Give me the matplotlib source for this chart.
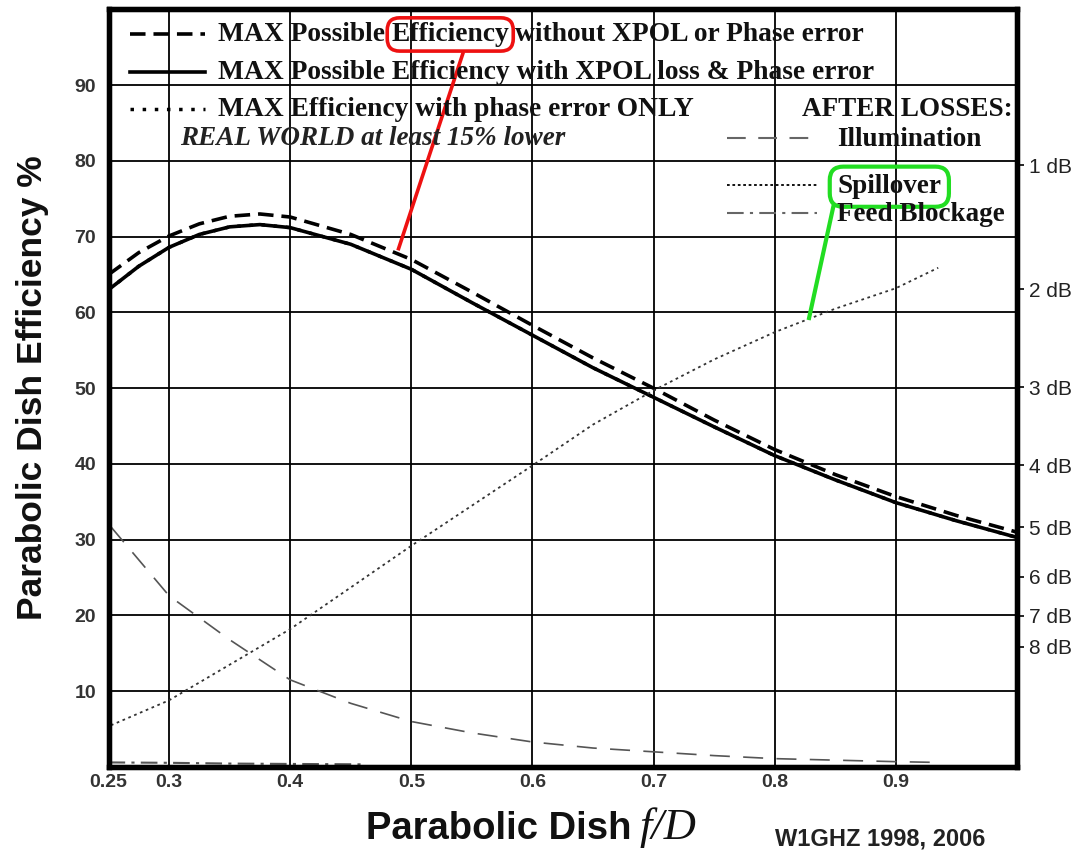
import matplotlib
matplotlib.use('Agg')
import matplotlib.pyplot as plt

# f/D values and efficiency curves (percent)
fd = [0.25, 0.275, 0.3, 0.325, 0.35, 0.375, 0.4, 0.45, 0.5, 0.55, 0.6,
      0.65, 0.7, 0.75, 0.8, 0.85, 0.9, 0.95, 1.0]
eff_no_xpol = [65.0, 67.9, 70.1, 71.7, 72.7, 73.0, 72.6, 70.3, 67.0, 62.7, 58.3,
               54.0, 50.0, 45.8, 41.9, 38.6, 35.7, 33.2, 31.0]
eff_xpol = [63.0, 66.1, 68.6, 70.3, 71.3, 71.6, 71.2, 69.0, 65.7, 61.3, 57.0,
            52.7, 48.8, 44.9, 41.1, 37.9, 34.9, 32.5, 30.3]
# phase-error-only curve is hidden under the solid one in the original
eff_phase = [63.0, 66.1, 68.6, 70.3, 71.3, 71.6, 71.2, 69.0, 65.7, 61.3, 57.0,
             52.7, 48.8, 44.9, 41.1, 37.9, 34.9, 32.5, 30.3]

fd_loss = [0.252, 0.3, 0.35, 0.4, 0.45, 0.5, 0.55, 0.6, 0.65, 0.7, 0.75,
           0.8, 0.85, 0.9, 0.935]
illumination = [31.7, 22.6, 16.8, 11.5, 8.4, 6.0, 4.5, 3.3, 2.5, 2.0, 1.5,
                1.1, 0.9, 0.7, 0.6]
spillover = [5.5, 8.8, 13.5, 18.2, 23.7, 29.2, 34.5, 39.8, 45.2, 49.7, 53.8,
             57.4, 60.5, 63.2, 65.9]
fd_block = [0.25, 0.3, 0.35, 0.4, 0.46]
blockage = [0.6, 0.55, 0.45, 0.4, 0.35]

x_ticks = [0.25, 0.3, 0.4, 0.5, 0.6, 0.7, 0.8, 0.9]
x_labels = ['0.25', '0.3', '0.4', '0.5', '0.6', '0.7', '0.8', '0.9']
y_ticks = [10, 20, 30, 40, 50, 60, 70, 80, 90]
db_ticks = [1, 2, 3, 4, 5, 6, 7, 8]

serif = 'Liberation Serif'
sans = 'Liberation Sans'

fig = plt.figure(figsize=(10.85, 8.52), dpi=100)
ax = fig.add_axes([0.1, 0.0998, 0.8373, 0.8891])
ax.set_xlim(0.25, 1.0)
ax.set_ylim(0, 100)

# curves
ax.plot(fd, eff_phase, color='black', lw=2.5, ls=(0, (1, 2.5)))
ax.plot(fd, eff_no_xpol, color='black', lw=2.6, dashes=(4.3, 2.2))
ax.plot(fd, eff_xpol, color='black', lw=2.6)
ax.plot(fd_loss, illumination, color='#555555', lw=1.2, dashes=(12, 8))
ax.plot(fd_loss, spillover, color='#333333', lw=1.3, dashes=(1.5, 2))
ax.plot(fd_block, blockage, color='#555555', lw=1.5, dashes=(8, 3, 1.5, 3))

# grid and frame
ax.set_xticks(x_ticks)
ax.set_xticklabels(x_labels)
ax.set_yticks(y_ticks)
ax.grid(True, color='black', lw=1.3)
ax.set_axisbelow(True)
for s in ax.spines.values():
    s.set_linewidth(3.8)
ax.tick_params(axis='both', length=0, labelsize=14, labelcolor='#333333')
ax.tick_params(axis='x', pad=5)
ax.tick_params(axis='y', pad=9)
for lab in ax.get_xticklabels() + ax.get_yticklabels():
    lab.set_fontfamily(sans)
    lab.set_fontweight('bold')

# right hand dB scale
ax2 = ax.twinx()
ax2.set_ylim(0, 100)
ax2.set_yticks([100 * 10 ** (-d / 10) for d in db_ticks])
ax2.set_yticklabels(['%d dB' % d for d in db_ticks])
ax2.tick_params(axis='y', direction='out', length=5, width=1.2, pad=4,
                labelsize=15, labelcolor='#222222')
for lab in ax2.get_yticklabels():
    lab.set_fontfamily(sans)
for s in ax2.spines.values():
    s.set_linewidth(3.8)

# legend block, top left
fs = 19.8
ax.plot([0.268, 0.330], [96.8, 96.8], color='black', lw=2.6, dashes=(4.3, 2.2))
ax.plot([0.268, 0.330], [91.8, 91.8], color='black', lw=2.6)
ax.plot([0.268, 0.330], [86.9, 86.9], color='black', lw=2.5, ls=(0, (1, 2.5)))
t1 = ax.text(0.3405, 96.7, 'MAX Possible', fontfamily=serif, fontweight='bold',
             fontsize=fs, va='center', color='#111111')
t_eff = ax.annotate('Efficiency', xy=(1, 0), xycoords=t1, xytext=(4.5, 0),
                    textcoords='offset points', va='bottom', fontfamily=serif,
                    fontweight='bold', fontsize=fs, color='#111111',
                    bbox=dict(boxstyle='round,pad=0.15,rounding_size=0.45',
                              fc='none', ec='#ee1111', lw=2.6))
ax.annotate('without XPOL or Phase error', xy=(1, 0), xycoords=t_eff,
            xytext=(4.5, 0), textcoords='offset points', va='bottom',
            fontfamily=serif, fontweight='bold', fontsize=fs, color='#111111')
ax.text(0.3405, 91.7, 'MAX Possible Efficiency with XPOL loss & Phase error',
        fontfamily=serif, fontweight='bold', fontsize=fs, va='center',
        color='#111111')
ax.text(0.3405, 86.8, 'MAX Efficiency with phase error ONLY',
        fontfamily=serif, fontweight='bold', fontsize=fs, va='center',
        color='#111111')
ax.text(0.309, 83.0, 'REAL WORLD at least 15% lower', fontfamily=serif,
        fontweight='bold', fontstyle='italic', fontsize=19.5, va='center',
        color='#222222')

# legend block, top right
fs2 = 19.5
ax.text(0.9967, 86.8, 'AFTER LOSSES:', fontfamily=serif, fontweight='bold',
        fontsize=fs2, va='center', ha='right', color='#111111')
ax.plot([0.761, 0.835], [83.0, 83.0], color='#666666', lw=1.5, dashes=(9, 6))
ax.text(0.8517, 82.8, 'Illumination', fontfamily=serif, fontweight='bold',
        fontsize=fs2, va='center', color='#111111')
ax.plot([0.761, 0.835], [76.8, 76.8], color='black', lw=1.3, dashes=(1.5, 1.5))
ax.text(0.8517, 76.6, 'Spillover', fontfamily=serif, fontweight='bold',
        fontsize=fs2, va='center', color='#111111',
        bbox=dict(boxstyle='round,pad=0.28,rounding_size=0.5',
                  fc='none', ec='#22dd22', lw=3))
ax.plot([0.761, 0.835], [73.1, 73.1], color='#666666', lw=1.5,
        dashes=(8, 3, 1.5, 3))
ax.text(0.8517, 72.9, 'Feed Blockage', fontfamily=serif, fontweight='bold',
        fontsize=fs2, va='center', color='#111111')

# callout lines
red_line_x = [0.543, 0.489]
red_line_y = [94.4, 68.2]
green_line_x = [0.8487, 0.828]
green_line_y = [74.2, 59.0]
ax.plot(red_line_x, red_line_y, color='#ee1111', lw=2.6, solid_capstyle='butt')
ax.plot(green_line_x, green_line_y, color='#22dd22', lw=3, solid_capstyle='butt')

# axis titles
fig.text(0.0295, 0.545, 'Parabolic Dish Efficiency %', rotation=90,
         fontfamily=sans, fontweight='bold', fontsize=25.5, ha='center',
         va='center', color='#111111')
fig.text(632 / 1085, 0.015, 'Parabolic Dish', fontfamily=sans,
         fontweight='bold', fontsize=27.5, ha='right', va='baseline',
         color='#111111')
fig.text(640 / 1085, 0.015, 'f/D', fontfamily=serif, fontstyle='italic',
         fontsize=32, ha='left', va='baseline', color='#111111')
fig.text(775 / 1085, 0.002, 'W1GHZ 1998, 2006', fontfamily=sans,
         fontweight='bold', fontsize=17, ha='left', va='bottom',
         color='#222222')

fig.savefig('out.png', dpi=100)
